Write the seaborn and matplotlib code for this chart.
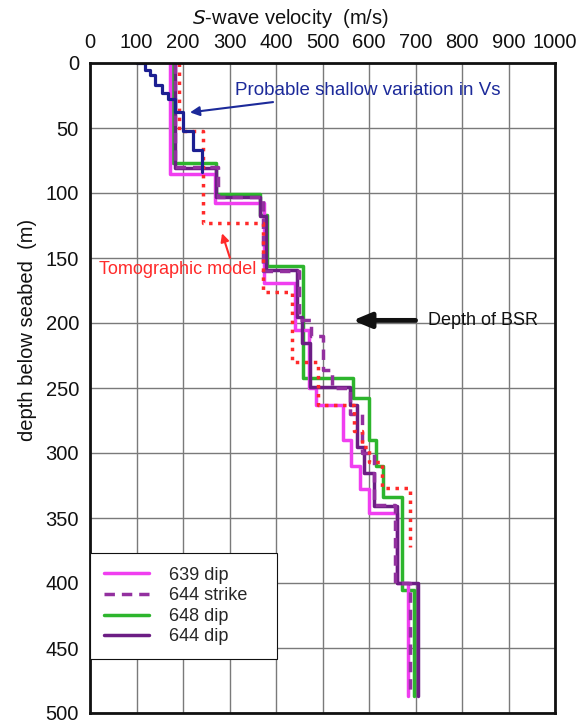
import matplotlib
matplotlib.use("Agg")
import matplotlib.pyplot as plt
import seaborn as sns

# %% perfis de velocidade S (degraus): limites de camada (m) e velocidade (m/s)
depth_639 = [0, 85, 108, 169, 205, 250, 263, 290, 310, 328, 346, 400, 487]
vel_639 = [172, 268, 374, 440, 470, 486, 545, 562, 580, 600, 660, 684]

depth_644s = [0, 80, 103, 160, 198, 210, 236, 250, 270, 300, 340, 400, 487]
vel_644s = [182, 275, 372, 450, 476, 500, 520, 560, 585, 610, 655, 688]

depth_648 = [0, 77, 101, 117, 156, 242, 258, 290, 310, 334, 405, 487]
vel_648 = [178, 270, 366, 380, 458, 566, 600, 615, 630, 671, 697]

depth_644d = [0, 81, 103, 118, 159, 195, 215, 249, 263, 295, 315, 341, 400, 487]
vel_644d = [182, 272, 365, 378, 445, 455, 473, 559, 575, 590, 610, 660, 705]

depth_tomo = [0, 52, 123, 176, 230, 263, 283, 295, 307, 327, 372]
vel_tomo = [192, 242, 372, 434, 490, 568, 585, 600, 628, 688]

depth_shallow = [0, 0, 5, 9, 17, 23, 28, 38, 52, 67, 84]
vel_shallow = [100, 118, 129, 140, 155, 168, 183, 200, 222, 241]

x_ticks = list(range(0, 1001, 100))
y_ticks = list(range(0, 501, 50))


def degraus(limites, vels):
    # transforma camadas em pontos de um perfil em escada
    xs, ys = [], []
    for i, v in enumerate(vels):
        xs += [v, v]
        ys += [limites[i], limites[i + 1]]
    return xs, ys


# %%
sns.set_theme(style="white")
plt.rcParams['font.family'] = ['Liberation Sans', 'DejaVu Sans']

fig = plt.figure(figsize=(5.82, 7.26), dpi=100)
ax = fig.add_axes([90 / 582, 1 - 713 / 726, 465 / 582, 650 / 726])

curvas = [
    (depth_648, vel_648, '#2db52d', '-', '648 dip'),
    (depth_639, vel_639, '#f03ef0', '-', '639 dip'),
    (depth_644d, vel_644d, '#6c1d84', '-', '644 dip'),
    (depth_644s, vel_644s, '#93309f', (0, (3, 2)), '644 strike'),
]
for lim, vel, cor, estilo, nome in curvas:
    xs, ys = degraus(lim, vel)
    sns.lineplot(x=xs, y=ys, sort=False, estimator=None, color=cor,
                 linestyle=estilo, linewidth=2.5, ax=ax, label=nome)

xs, ys = degraus(depth_tomo, vel_tomo)
sns.lineplot(x=xs, y=ys, sort=False, estimator=None, color='#ff2a2a',
             linestyle=(0, (1, 1.6)), linewidth=2.5, ax=ax, legend=False)
xs, ys = degraus(depth_shallow, vel_shallow)
sns.lineplot(x=xs, y=ys, sort=False, estimator=None, color='#1c1f92',
             linewidth=2.3, ax=ax, legend=False)

ax.set_xlim(0, 1000)
ax.set_ylim(500, 0)
ax.xaxis.tick_top()
ax.set_xticks(x_ticks)
ax.set_yticks(y_ticks)
ax.tick_params(axis='both', length=0, labelsize=14.5, colors='#111111')
ax.tick_params(axis='x', pad=8)
ax.tick_params(axis='y', pad=8)
ax.grid(True, color='#7a7a7a', linewidth=1)
ax.set_xlabel('')
ax.set_ylabel('')
for s in ax.spines.values():
    s.set_color('#111111')
    s.set_linewidth(2)

fig.text(290 / 582, 1 - 19 / 726, r'$\mathit{S}$-wave velocity  (m/s)',
         ha='center', va='center', fontsize=14.5, color='#111111')
fig.text(28 / 582, 1 - 330 / 726, 'depth below seabed  (m)', rotation=90,
         ha='center', va='center', fontsize=14.5, color='#111111')

# %% anotacoes
ax.annotate('Probable shallow variation in Vs', xy=(215, 38), xytext=(312, 21),
            color='#1c2a9a', fontsize=13.5, va='center',
            arrowprops=dict(arrowstyle='-|>', color='#1c2a9a', lw=1.5,
                            mutation_scale=14, shrinkA=0, shrinkB=0))
ax.text(20, 159, 'Tomographic model', color='#ff2a2a', fontsize=13, va='center')
ax.annotate('', xy=(284, 131), xytext=(301, 150),
            arrowprops=dict(arrowstyle='-|>', color='#ff2a2a', lw=1.5,
                            mutation_scale=12, shrinkA=0, shrinkB=0))
ax.text(727, 198, 'Depth of BSR', color='#111111', fontsize=13, va='center')
ax.annotate('', xy=(565, 198), xytext=(700, 198),
            arrowprops=dict(arrowstyle='-|>,head_length=0.6,head_width=0.25',
                            color='#111111', lw=3.5,
                            mutation_scale=18, shrinkA=0, shrinkB=0))
ax.plot([610, 700], [198, 198], color='white', linewidth=1)

# legenda na ordem da referencia
h, l = ax.get_legend_handles_labels()
ordem = ['639 dip', '644 strike', '648 dip', '644 dip']
hh = [h[l.index(n)] for n in ordem]
leg = ax.legend(hh, ordem, loc='upper left', mode='expand',
                bbox_to_anchor=(0, 0.246 - 0.154, 187 / 465, 0.154),
                borderaxespad=0, fontsize=13, frameon=True, fancybox=False,
                framealpha=1, edgecolor='#111111', handlelength=2.5,
                labelspacing=0.2, borderpad=0.75, handletextpad=1.1)
leg.get_frame().set_linewidth(0.8)

fig.savefig('out.png', dpi=100)
